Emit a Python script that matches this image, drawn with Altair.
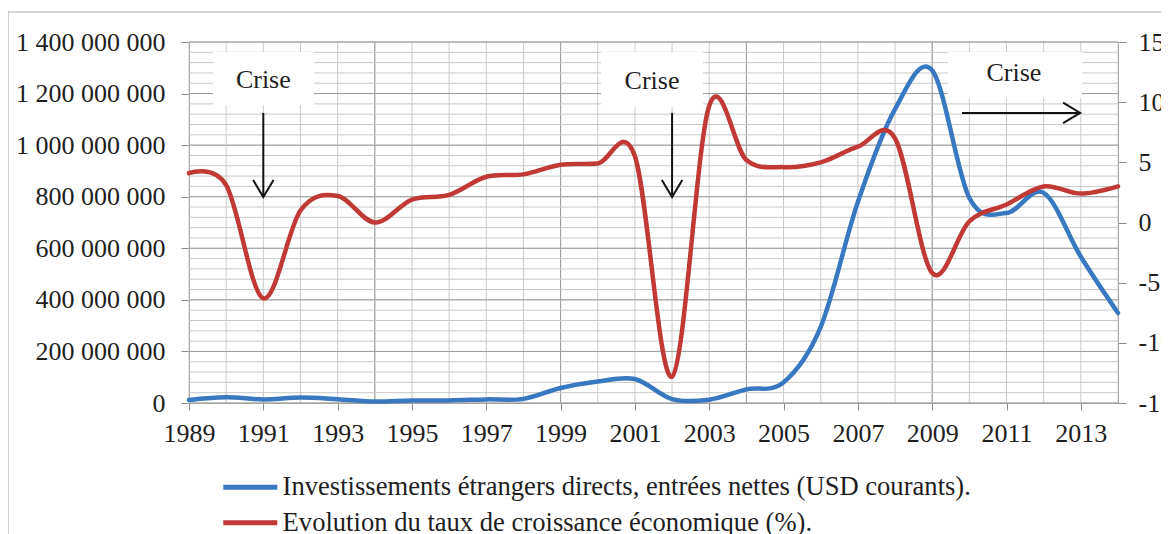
import altair as alt
import pandas as pd

# ---------------- data ----------------
years = list(range(1989, 2015))
fdi = [12e6, 22e6, 14e6, 21e6, 15e6, 6e6, 10e6, 10e6, 14e6, 16e6,
       58e6, 83e6, 93e6, 15e6, 13e6, 53e6, 80e6, 295e6, 780e6, 1140e6,
       1290e6, 795e6, 737e6, 815e6, 567e6, 349e6]
growth = [4.1, 3.1, -6.3, 1.0, 2.2, 0.0, 1.9, 2.3, 3.8, 4.0,
          4.8, 4.9, 5.5, -12.8, 9.7, 5.2, 4.6, 5.0, 6.3, 7.0,
          -4.2, 0.1, 1.5, 3.0, 2.4, 3.0]

serie_fdi = "Investissements étrangers directs, entrées nettes (USD courants)."
serie_growth = "Evolution du taux de croissance économique (%)."

x_tick_years = list(range(1989, 2015, 2))
left_ticks = list(range(0, 1400000001, 200000000))
right_ticks = list(range(-15, 16, 5))
minor_h = list(range(0, 1400000001, 40000000))
major_v_years = [1994, 1999, 2004, 2009]

# annotations ("Crise" boxes and arrows), in data units
crise_text = ["Crise", "Crise", "Crise"]
box_x1 = [1989.65, 2000.09, 2009.42]
box_x2 = [1992.36, 2002.83, 2013.03]
box_top = [1361e6, 1361e6, 1361e6]
box_bot = [1156e6, 1148e6, 1183e6]
text_x = [1991.0, 2001.46, 2011.2]
text_y = [1253e6, 1249e6, 1280e6]
varrow_x = [1991, 2002]
varrow_y1 = [1125e6, 1125e6]
varrow_y2 = [799e6, 799e6]
harrow_x1 = [2009.8]
harrow_x2 = [2012.98]
harrow_y = [1125e6]

# ---------------- styles ----------------
FONT = "Liberation Serif"
BLUE = "#3878c0"
RED = "#c03935"
TXT = "#1e1e1e"
AXC = "#8a8a8a"

df = pd.DataFrame({"year": years, "fdi": fdi, "growth": growth})
df_fdi = df.assign(serie=serie_fdi)
df_gr = df.assign(serie=serie_growth)

xscale = alt.Scale(domain=[1989, 2014], nice=False, zero=False)
lscale = alt.Scale(domain=[0, 1400000000], nice=False, zero=False)
rscale = alt.Scale(domain=[-15, 15], nice=False, zero=False)

x_axis = alt.Axis(values=x_tick_years, format="d", title=None, grid=False,
                  labelFont=FONT, labelFontSize=26, labelColor=TXT,
                  domainColor=AXC, tickColor=AXC, tickSize=7, labelPadding=10,
                  labelFlush=False, labelOverlap=False)
l_axis = alt.Axis(values=left_ticks, title=None, grid=False, orient="left",
                  labelExpr="replace(format(datum.value, ','), regexp(',', 'g'), ' ')",
                  labelFont=FONT, labelFontSize=26, labelColor=TXT,
                  domainColor=AXC, tickColor=AXC, tickSize=8, labelPadding=16)
r_axis = alt.Axis(values=right_ticks, title=None, grid=False, orient="right",
                  labelExpr="datum.value < 0 ? '-' + abs(datum.value) : '' + datum.value",
                  labelFont=FONT, labelFontSize=26, labelColor=TXT,
                  domainColor=AXC, tickColor=AXC, tickSize=8, labelPadding=12)


def X(field):
    return alt.X(field, type="quantitative", scale=xscale, axis=x_axis)


def YL(field):
    return alt.Y(field, type="quantitative", scale=lscale, axis=l_axis)


color_enc = alt.Color(
    "serie:N",
    scale=alt.Scale(domain=[serie_fdi, serie_growth], range=[BLUE, RED]),
    legend=alt.Legend(orient="none", legendX=48, legendY=432, direction="vertical",
                      title=None, symbolType="M-5.4,0H5.4", symbolSize=100,
                      symbolStrokeWidth=5, labelFont=FONT, labelFontSize=26.6,
                      labelColor=TXT, labelOffset=19, labelLimit=0, padding=0,
                      rowPadding=8.4),
)

# grid
vgrid = alt.Chart(pd.DataFrame({"year": years})).mark_rule(
    color="#c9c9c9", strokeWidth=1).encode(x=X("year"))
vgrid_major = alt.Chart(pd.DataFrame({"year": major_v_years})).mark_rule(
    color="#9c9c9c", strokeWidth=1).encode(x=X("year"))
hgrid = alt.Chart(pd.DataFrame({"v": minor_h})).mark_rule(
    color="#c9c9c9", strokeWidth=1).encode(y=YL("v"))
hgrid_major = alt.Chart(pd.DataFrame({"v": left_ticks})).mark_rule(
    color="#9c9c9c", strokeWidth=1).encode(y=YL("v"))

# annotation boxes
boxes_df = pd.DataFrame({"x1": box_x1, "x2": box_x2, "y1": box_top, "y2": box_bot,
                         "tx": text_x, "ty": text_y, "t": crise_text})
boxes = alt.Chart(boxes_df).mark_rect(fill="white").encode(
    x=X("x1"), x2="x2", y=YL("y1"), y2="y2")
texts = alt.Chart(boxes_df).mark_text(font=FONT, fontSize=26, color=TXT,
                                      align="center", baseline="middle").encode(
    x=X("tx"), y=YL("ty"), text="t:N")

va_df = pd.DataFrame({"x": varrow_x, "y1": varrow_y1, "y2": varrow_y2})
varrows = alt.Chart(va_df).mark_rule(color="#111", strokeWidth=2).encode(
    x=X("x"), y=YL("y1"), y2="y2")
vheads = alt.Chart(va_df).mark_point(
    shape="M-0.6,-1L0,0L0.6,-1", filled=False, size=1156, color="#111",
    strokeWidth=2, opacity=1).encode(x=X("x"), y=YL("y2"))
ha_df = pd.DataFrame({"x1": harrow_x1, "x2": harrow_x2, "y": harrow_y})
harrows = alt.Chart(ha_df).mark_rule(color="#111", strokeWidth=2).encode(
    x=X("x1"), x2="x2", y=YL("y"))
hheads = alt.Chart(ha_df).mark_point(
    shape="M-1,-0.6L0,0L-1,0.6", filled=False, size=1156, color="#111",
    strokeWidth=2, opacity=1).encode(x=X("x2"), y=YL("y"))

blue_line = alt.Chart(df_fdi).mark_line(
    interpolate="cardinal", strokeWidth=4.5, strokeCap="round", strokeJoin="round").encode(
    x=X("year"), y=YL("fdi"), color=color_enc)

red_line = alt.Chart(df_gr).mark_line(
    interpolate="cardinal", strokeWidth=4.5, strokeCap="round", strokeJoin="round").encode(
    x=X("year"), y=alt.Y("growth:Q", scale=rscale, axis=r_axis), color=color_enc)

frame = alt.Chart(pd.DataFrame({"a": [0]})).mark_rect(
    fill=None, stroke="#a8a8a8", strokeWidth=1).encode(
    x=alt.value(-181), x2=alt.value(1100), y=alt.value(-30), y2=alt.value(700))

left = alt.layer(frame, vgrid, vgrid_major, hgrid, hgrid_major, boxes, texts,
                 varrows, vheads, harrows, hheads, blue_line)

chart = alt.layer(left, red_line).resolve_scale(y="independent").properties(
    width=929, height=361,
    autosize=alt.AutoSizeParams(type="none"),
    padding={"left": 181, "top": 34, "right": 43, "bottom": 131},
).configure_view(stroke=None).configure(font=FONT, background="white")

chart.save("out.html", embed_options={"renderer": "svg", "actions": False})
